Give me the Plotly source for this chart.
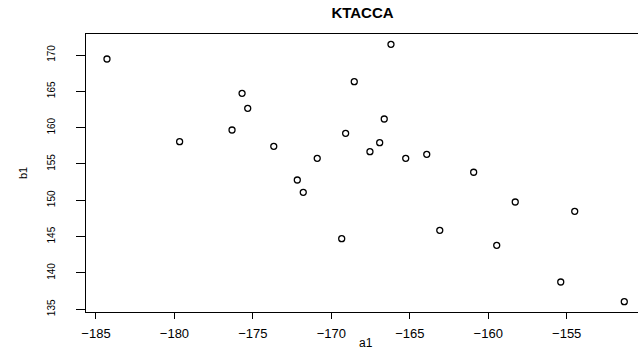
import plotly.graph_objects as go

# Data
a1 = [-184.30, -179.67, -176.33, -175.69, -175.33, -173.67, -170.90, -169.09,
      -168.54, -172.17, -171.79, -169.34, -166.20, -166.63, -166.92, -167.54,
      -165.26, -163.92, -160.93, -158.28, -154.49, -163.09, -159.46, -155.38,
      -151.33]
b1 = [169.45, 158.07, 159.68, 164.73, 162.66, 157.43, 155.78, 159.22,
      166.33, 152.80, 151.10, 144.72, 171.47, 161.19, 157.93, 156.69,
      155.78, 156.33, 153.86, 149.77, 148.49, 145.87, 143.81, 138.76,
      136.05]
x_ticks = [-185, -180, -175, -170, -165, -160, -155]
y_ticks = [135, 140, 145, 150, 155, 160, 165, 170]
title_text = "KTACCA"
x_label = "a1"
y_label = "b1"

FONT = "Liberation Sans, Arial, Helvetica, sans-serif"

fig = go.Figure()
fig.add_trace(go.Scatter(
    x=a1, y=b1, mode="markers",
    marker=dict(symbol="circle-open", size=6, color="black",
                line=dict(color="black", width=1.3)),
    hoverinfo="skip", showlegend=False,
))

fig.update_layout(
    width=638, height=360,
    margin=dict(l=86, r=0, t=34, b=48),
    paper_bgcolor="white", plot_bgcolor="white",
    font=dict(family=FONT, color="black"),
    showlegend=False,
    title=dict(text="<b>" + title_text + "</b>", x=(362.5 - 86) / 552, xref="paper",
               xanchor="center", y=1 - 12.5 / 360, yref="container",
               yanchor="middle", font=dict(size=15, family=FONT, color="black")),
    xaxis=dict(
        range=[-185.637, -150.456], autorange=False,
        tickmode="array", tickvals=x_ticks,
        ticks="outside", ticklen=6, tickwidth=1, tickcolor="black",
        showline=True, linecolor="black", linewidth=1, mirror=True,
        showgrid=False, zeroline=False,
        tickfont=dict(size=13, family=FONT, color="black"),
        ticklabelstandoff=3,
    ),
    yaxis=dict(
        range=[134.63, 172.89], autorange=False,
        tickmode="array", tickvals=y_ticks,
        ticks="outside", ticklen=9, tickwidth=1, tickcolor="black",
        showline=True, linecolor="black", linewidth=1, mirror=False,
        showgrid=False, zeroline=False, tickangle=-90,
        tickfont=dict(size=10, family=FONT, color="black"),
        ticklabelstandoff=17,
    ),
    annotations=[
        dict(text=x_label, xref="paper", yref="paper",
             x=(365.5 - 86) / 552, y=(312 - 343) / 278,
             xanchor="center", yanchor="middle", showarrow=False,
             font=dict(size=12, family=FONT, color="black")),
        dict(text=y_label, xref="paper", yref="paper",
             x=(23 - 86) / 552, y=0.5, textangle=-90,
             xanchor="center", yanchor="middle", showarrow=False,
             font=dict(size=11, family=FONT, color="black")),
    ],
)

fig.write_html("out.html")
